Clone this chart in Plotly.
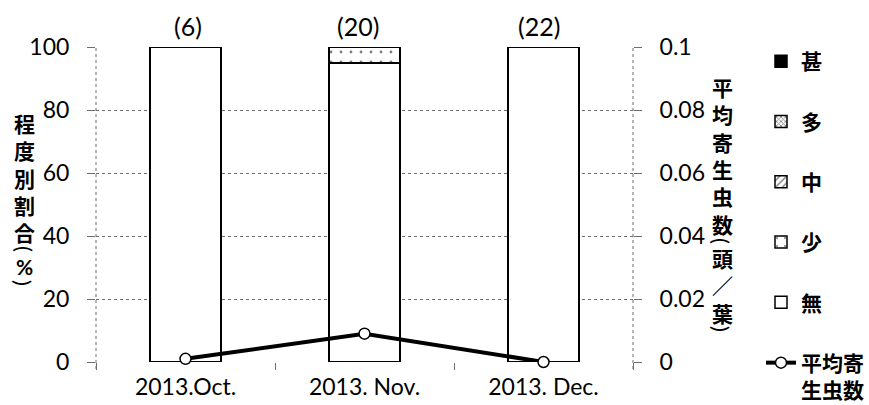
import plotly.graph_objects as go

# --- data -------------------------------------------------------------
months = ["2013.Oct.", "2013. Nov.", "2013. Dec."]
sample_counts = ["(6)", "(20)", "(22)"]

# share of leaves per infestation level (%)
share_none = [100, 95, 100]    # 無
share_few = [0, 5, 0]          # 少
share_mid = [0, 0, 0]          # 中
share_many = [0, 0, 0]         # 多
share_severe = [0, 0, 0]       # 甚

# mean number of parasites (individuals / leaf)
mean_parasites = [0.001, 0.009, 0.0]

left_ticks = [0, 20, 40, 60, 80, 100]
right_ticks = [0, 0.02, 0.04, 0.06, 0.08, 0.1]
right_tick_text = ["0", "0.02", "0.04", "0.06", "0.08", "0.1"]

# --- layout constants -------------------------------------------------
W, H = 869, 405
L, R, T, B = 96, 236, 47, 43
PW, PH = W - L - R, H - T - B
LATIN = "Lato"
CJK = "Noto Sans CJK JP"
GRID = "#6e6e6e"


def px_x(x):
    return (x - L) / PW


def px_y(y):
    return (H - B - y) / PH


fig = go.Figure()

bar_series = [
    ("無", share_none, dict(color="white")),
    ("少", share_few, dict(color="white", pattern=dict(shape=".", size=10, solidity=0.06,
                                                      fgcolor="black", bgcolor="white", fillmode="overlay"))),
    ("中", share_mid, dict(color="white", pattern=dict(shape="/", size=6, solidity=0.3,
                                                      fgcolor="black", bgcolor="white", fillmode="overlay"))),
    ("多", share_many, dict(color="white", pattern=dict(shape="x", size=4, solidity=0.45,
                                                       fgcolor="black", bgcolor="white", fillmode="overlay"))),
    ("甚", share_severe, dict(color="black")),
]
ranks = {"甚": 1, "多": 2, "中": 3, "少": 4, "無": 5}

for name, vals, mk in bar_series:
    mk = dict(mk)
    mk["line"] = dict(color="black", width=1.5)
    fig.add_trace(go.Bar(
        x=months, y=vals, name=name, marker=mk,
        legendgroup=name, legendrank=ranks[name],
        yaxis="y",
    ))

fig.add_trace(go.Scatter(
    x=months, y=mean_parasites, name="平均寄<br>生虫数",
    mode="lines+markers", yaxis="y2", cliponaxis=False,
    line=dict(color="black", width=4),
    marker=dict(symbol="circle", size=11, color="white",
                line=dict(color="black", width=1.5)),
    legendgroup="mean", legendrank=6,
))

# sample sizes above the bars
for m, txt, dx in zip(months, sample_counts, [2, -7, -5]):
    fig.add_annotation(x=m, y=100, xref="x", yref="y", text=txt, showarrow=False,
                       yanchor="middle", yshift=21, xshift=dx,
                       font=dict(family=LATIN, size=25, color="black"))


def title_block(text, x, y, size, angle=0, family=CJK, bold=True):
    fig.add_annotation(x=px_x(x), y=px_y(y), xref="paper", yref="paper", text=text,
                       showarrow=False, xanchor="center", yanchor="middle",
                       textangle=angle,
                       font=dict(family=family, size=size, color="black",
                                 weight="bold" if bold else "normal"))


# left axis title, written top to bottom: 程度別割合（%）
title_block("程<br>度<br>別<br>割<br>合", 24, 177, 21)
title_block("(", 24, 249, 22, angle=90, family=LATIN, bold=False)
title_block("%", 24, 266, 21, family=LATIN)
title_block(")", 24, 283, 22, angle=90, family=LATIN, bold=False)

# right axis title, written top to bottom: 平均寄生虫数（頭／葉）
title_block("平<br>均<br>寄<br>生<br>虫<br>数", 722, 155, 21)
title_block("(", 722, 241, 22, angle=90, family=LATIN, bold=False)
title_block("頭<br>／<br>葉", 722, 285, 21)
title_block(")", 722, 329, 22, angle=90, family=LATIN, bold=False)

# dotted frame verticals at both ends of the plot area
for xd in (0, 1):
    fig.add_shape(type="line", xref="x domain", yref="y domain", x0=xd, x1=xd,
                  y0=-7 / PH, y1=1, line=dict(color=GRID, width=1, dash="dot"))

fig.update_layout(
    width=W, height=H,
    margin=dict(l=L, r=R, t=T, b=B, autoexpand=False),
    paper_bgcolor="white", plot_bgcolor="white",
    barmode="stack", bargap=0.604,
    showlegend=True,
    legend=dict(x=px_x(761), y=px_y(41), xanchor="left", yanchor="top",
                traceorder="grouped", tracegroupgap=30, valign="top",
                maxheight=400,
                font=dict(family=CJK, size=21, color="black", weight="bold"),
                bgcolor="rgba(0,0,0,0)", itemwidth=30),
    xaxis=dict(type="category", tickson="boundaries", ticks="outside", ticklen=7,
               tickcolor=GRID, showline=False, showgrid=False, zeroline=False,
               tickfont=dict(family=LATIN, size=23, color="black"),
               ticklabelstandoff=9),
    yaxis=dict(range=[0, 100], tickvals=left_ticks, ticks="outside", ticklen=8,
               tickcolor=GRID, showgrid=True, gridcolor=GRID, griddash="dot",
               gridwidth=1, zeroline=False, showline=False,
               tickfont=dict(family=LATIN, size=23, color="black"),
               ticklabelstandoff=13),
    yaxis2=dict(range=[0, 0.1], tickvals=right_ticks, ticktext=right_tick_text,
                overlaying="y", side="right", ticks="outside", ticklen=8,
                tickcolor=GRID, showgrid=False, zeroline=False, showline=False,
                tickfont=dict(family=LATIN, size=23, color="black"),
                ticklabelstandoff=13),
)

fig.write_html("out.html")
